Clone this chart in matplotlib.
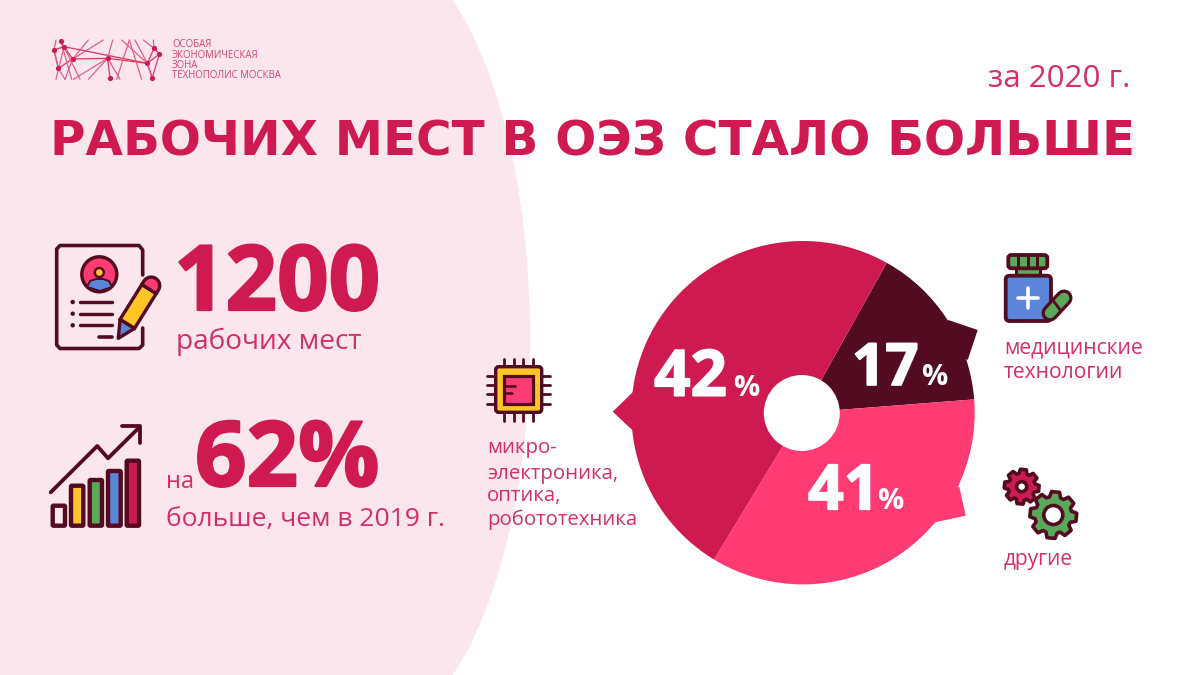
import numpy as np
import matplotlib
matplotlib.use("Agg")
import matplotlib.pyplot as plt
import matplotlib.patheffects as pe
from matplotlib.patches import Circle, Ellipse, Polygon, FancyBboxPatch, Rectangle

# ---------- data ----------
share_labels = ["17", "41", "42"]          # printed percentages
sweep_degrees = [56.35, 125.65, 178.0]     # angular size of each slice as drawn
slice_colors = ["#520B20", "#FF3B74", "#CE1A50"]
total_jobs = "1200"
growth = "62%"
year_note = "за 2020 г."
title = "РАБОЧИХ МЕСТ В ОЭЗ СТАЛО БОЛЬШЕ"
logo_lines = ["ОСОБАЯ", "ЭКОНОМИЧЕСКАЯ", "ЗОНА", "ТЕХНОПОЛИС МОСКВА"]
bar_icon_tops = [505.7, 485.7, 480, 471, 460.7]

# ---------- palette ----------
CRIM = "#CE1A50"
TXT = "#D52F63"
DARK = "#520B20"
PINK = "#FF3B74"
YEL = "#FFC425"
GRN = "#5AA85A"
BLU = "#5B85D9"
BG = "#FAE6EC"

HEAVY = "DejaVu Sans"
NUM = "Open Sans"
LIGHT = "Open Sans"

fig = plt.figure(figsize=(12, 6.75), dpi=100, facecolor="white")
ax = fig.add_axes([0, 0, 1, 1], zorder=1)
ax.set_xlim(0, 1200); ax.set_ylim(675, 0); ax.axis("off")

PX = 0.72  # points per pixel

# pink background
ax.add_patch(Ellipse((370, 337.5), 320, 788, fc=BG, ec="none", zorder=0))
ax.add_patch(Rectangle((0, 0), 370, 675, fc=BG, ec="none", zorder=0))


def line(pts, lw=3, c=DARK, z=3, cap="round"):
    p = np.array(pts, float)
    ax.plot(p[:, 0], p[:, 1], color=c, lw=lw * PX, zorder=z,
            solid_capstyle=cap, solid_joinstyle="round")


def rrect(x0, y0, x1, y1, r, fc, ec=DARK, lw=3, z=3):
    ax.add_patch(FancyBboxPatch((x0, y0), x1 - x0, y1 - y0,
                                boxstyle=f"round,pad=0,rounding_size={r}",
                                fc=fc, ec=ec, lw=lw * PX, zorder=z))


fat = [pe.withStroke(linewidth=1.6, foreground=CRIM)]
fat_w = [pe.withStroke(linewidth=1.2, foreground="white")]

# ---------- logo ----------
n = np.array([(42, 60), (72, 50), (62, 32), (98, 87), (55, 115), (203, 85), (322, 100),
              (342, 55), (358, 72), (337, 143), (210, 145)], float) / 3 + (40, 30)
edges = [(1, 6), (1, 3), (0, 1), (0, 4), (3, 4), (3, 5), (5, 6), (6, 7), (6, 8), (6, 9),
         (7, 8), (8, 9), (5, 10), (2, 1)]
for a, b in edges:
    line([n[a], n[b]], lw=1.3, c="#DE3A6C", z=2)
for seg in [((48, 30), (42, 60)), ((42, 60), (55, 115)), ((55, 115), (75, 148)), ((72, 50), (120, 148)),
            ((62, 32), (95, 148)), ((98, 87), (145, 30)), ((72, 50), (48, 148)), ((98, 87), (75, 148)),
            ((203, 85), (218, 30)), ((203, 85), (100, 148)), ((145, 148), (203, 85)), ((230, 148), (268, 30)),
            ((268, 30), (305, 148)), ((245, 30), (322, 100)), ((285, 30), (322, 100)), ((310, 30), (342, 55)),
            ((322, 100), (337, 148)), ((340, 30), (342, 55)), ((203, 85), (240, 148)), ((98, 87), (190, 30))]:
    line((np.array(seg, float) / 3 + (40, 30)), lw=1.2, c="#E25A83", z=2)
ax.scatter(n[:, 0], n[:, 1], s=14, color="#CE1A50", zorder=3, linewidths=0)
for txt, y in zip(logo_lines, [47, 57.5, 68, 78]):
    ax.text(172, y, txt, fontsize=6.9, color="#D8456F", family=LIGHT, va="baseline")

# ---------- headings ----------
ax.text(50, 155, title, fontsize=34.85, color=CRIM, family=HEAVY, weight="bold", va="baseline")
ax.text(988, 87, year_note, fontsize=22.6, color=TXT, family=LIGHT, va="baseline")

# ---------- left block ----------
ax.text(174, 310, total_jobs, fontsize=65, color=CRIM, family=NUM, weight="bold", va="baseline", path_effects=fat)
ax.text(176, 349.5, "рабочих мест", fontsize=20.2, color=TXT, family=LIGHT, va="baseline")
ax.text(195, 486, growth, fontsize=65, color=CRIM, family=NUM, weight="bold", va="baseline", path_effects=fat)
ax.text(166, 488, "на", fontsize=17, color=TXT, family=LIGHT, va="baseline")
ax.text(166, 526, "больше, чем в 2019 г.", fontsize=19, color=TXT, family=LIGHT, va="baseline")

# ---------- document icon ----------
line([(142.7, 275), (142.7, 250), (139, 245.5), (60, 245.5), (56.7, 249), (56.7, 345), (60, 348.5),
      (139, 348.5), (142.7, 345), (142.7, 328)], lw=3.6)
ax.add_patch(Circle((99.3, 274.3), 17.5, fc=PINK, ec=DARK, lw=3.4 * PX, zorder=3))
ax.add_patch(Polygon([(87, 287), (90, 281), (96, 279), (103, 279), (109, 281), (112, 287), (100, 291)],
                     fc=BLU, ec=DARK, lw=2 * PX, zorder=4))
ax.add_patch(Circle((99.3, 272.5), 4.5, fc=YEL, ec=DARK, lw=2.4 * PX, zorder=5))
for y in (302, 313.7, 325.3):
    ax.add_patch(Circle((72.7, y), 2.2, fc=DARK, ec="none", zorder=3))
    line([(80, y), (112, y)], lw=3.4)
line([(99, 336.7), (112, 336.7)], lw=3.6)

tip = np.array((118.3, 338.3)); d = np.array((0.53, -0.85)); nrm = np.array((0.85, 0.53))


def pen(t, s):
    return tuple(tip + d * t + nrm * s)


hw = 8.5
ax.add_patch(Polygon([pen(0, 0), pen(17, -hw), pen(17, hw)], fc=BLU, ec=DARK, lw=3.4 * PX, zorder=3, joinstyle="round"))
ax.add_patch(Polygon([pen(17, -hw), pen(17, hw), pen(58, hw), pen(58, -hw)], fc=YEL, ec=DARK, lw=3.4 * PX, zorder=3))
ang = np.linspace(0, np.pi, 20)
cap_pts = [pen(58, -hw)] + [pen(62 + hw * np.sin(a), -hw * np.cos(a)) for a in ang] + [pen(58, hw)]
ax.add_patch(Polygon(cap_pts, fc=PINK, ec=DARK, lw=3.4 * PX, zorder=3, joinstyle="round"))

# ---------- bar-chart icon ----------
bar_x = [(52.7, 65), (71, 83.3), (89.7, 102), (108, 120.7), (126.7, 139)]
bar_c = [BG, YEL, GRN, BLU, CRIM]
for (x0, x1), top_y, c in zip(bar_x, bar_icon_tops, bar_c):
    rrect(x0, top_y, x1, 525.7, 1, c, lw=4.4)
line([(50.7, 492.3), (97.3, 446), (108, 458.3), (138.3, 428.3)], lw=3.8)
line([(121.7, 426), (140, 426), (140, 443)], lw=3.8)

# ---------- chip icon ----------
for x in (504, 514, 523.3, 533.3):
    line([(x, 359), (x, 367)], lw=2.8); line([(x, 412), (x, 420.7)], lw=2.8)
for y in (375.7, 385, 394.3, 403.7):
    line([(487, y), (496, y)], lw=2.8); line([(541.7, y), (550, y)], lw=2.8)
rrect(495.7, 366.7, 541.7, 412.3, 3, YEL, lw=3.4)
ax.add_patch(Rectangle((504, 375.7), 29.3, 28.6, fc=PINK, ec=DARK, lw=3.2 * PX, zorder=4))
line([(504, 386), (515, 386)], lw=2.6, z=5); line([(504, 393.3), (511.7, 393.3)], lw=2.6, z=5)

# ---------- bottle icon ----------
ax.add_patch(Rectangle((1016, 267), 24, 9, fc=GRN, ec=DARK, lw=3 * PX, zorder=3))
rrect(1005.7, 275.7, 1051, 321, 4, BLU, lw=3.8)
rrect(1008.3, 255, 1047.3, 268.3, 3, GRN, lw=3.8, z=4)
for x in (1018.3, 1027.7, 1037):
    line([(x, 255), (x, 268)], lw=3, z=5, cap="butt")
line([(1018, 298.3), (1038, 298.3)], lw=3.6, c="white", z=5)
line([(1028, 288.3), (1028, 308.3)], lw=3.6, c="white", z=5)
line([(1050, 313), (1064, 298)], lw=17, c=DARK, z=5)
line([(1050, 313), (1064, 298)], lw=10.5, c=GRN, z=6)
line([(1052, 299), (1061, 311)], lw=2.8, c=DARK, z=7, cap="butt")


# ---------- gears icon ----------
def gear(cx, cy, r_out, r_in, hole, fc, teeth=8):
    pts = []
    step = 2 * np.pi / teeth
    for i in range(teeth):
        a = i * step + step / 8
        for da, r in [(-0.30, r_in), (-0.17, r_out), (0.17, r_out), (0.30, r_in)]:
            pts.append((cx + r * np.cos(a + da * step * 1.3), cy + r * np.sin(a + da * step * 1.3)))
    ax.add_patch(Polygon(pts, fc=fc, ec=DARK, lw=3.6 * PX, zorder=3, joinstyle="round"))
    ax.add_patch(Circle((cx, cy), hole, fc="white", ec=DARK, lw=3.6 * PX, zorder=4))


gear(1021.7, 486.7, 17.5, 13.5, 5, CRIM)
gear(1053.3, 515, 23.5, 18.5, 9.5, GRN)

# ---------- pie ----------
CX, CY, R = 803.0, 412.7, 171.7
pie_ax = fig.add_axes([(CX - R) / 1200, 1 - (CY + R) / 675, 2 * R / 1200, 2 * R / 675], zorder=2)
pie_ax.pie(sweep_degrees, colors=slice_colors, startangle=60.8, counterclock=False, radius=1,
           wedgeprops=dict(linewidth=0))
pie_ax.set_xlim(-1, 1); pie_ax.set_ylim(-1, 1); pie_ax.patch.set_alpha(0)
# speech-bubble tails
for pts, c in [([(948.3, 320), (977.7, 330), (967.7, 360), (940, 345)], slice_colors[0]),
               ([(959.3, 486.7), (965.7, 515.7), (935, 522.3), (930, 495)], slice_colors[1]),
               ([(633.3, 391.7), (612.7, 411.7), (633.3, 431), (650, 411)], slice_colors[2])]:
    ax.add_patch(Polygon(pts, fc=c, ec="none", zorder=1.5))

# overlay: hole and labels on the pie
top = fig.add_axes([0, 0, 1, 1], zorder=3)
top.set_xlim(0, 1200); top.set_ylim(675, 0); top.axis("off"); top.patch.set_alpha(0)
top.add_patch(Circle((801.8, 413), 38, fc="white", ec="none"))
for lab, x, y, xp, fs in zip(share_labels, [852, 808, 654], [385, 509.3, 395.7], [921, 877, 733], [42, 45, 46]):
    top.text(x, y, lab, fontsize=fs, color="white", family=NUM, weight="bold", va="baseline", path_effects=fat_w)
    top.text(xp, y, "%", fontsize=21, color="white", family=NUM, weight="bold", va="baseline")

# ---------- pie category labels ----------
for txt, y in [("микро-", 453), ("электроника,", 479), ("оптика,", 501), ("робототехника", 525)]:
    ax.text(487, y, txt, fontsize=14.7, color=TXT, family=LIGHT, va="baseline")
for txt, y in [("медицинские", 354), ("технологии", 378)]:
    ax.text(1004, y, txt, fontsize=15.2, color=TXT, family=LIGHT, va="baseline")
ax.text(1004, 565, "другие", fontsize=15, color=TXT, family=LIGHT, va="baseline")

fig.savefig("out.png", dpi=100, facecolor="white")
